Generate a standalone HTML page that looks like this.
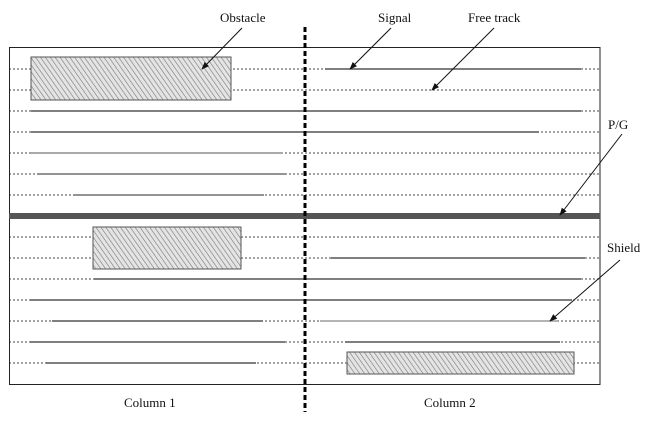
<!DOCTYPE html>
<html><head><style>
html,body{margin:0;padding:0;background:#fff;}
svg text{font-family:"Liberation Serif",serif;font-size:13px;fill:#111;}
</style></head><body>
<svg width="651" height="417" viewBox="0 0 651 417" xmlns="http://www.w3.org/2000/svg">
<defs>
<pattern id="h" width="4" height="4" patternUnits="userSpaceOnUse" patternTransform="rotate(-35)">
<rect width="4" height="4" fill="#e4e4e4"/>
<line x1="0" y1="0" x2="0" y2="4" stroke="#777" stroke-width="1.2"/>
</pattern>
<marker id="a" markerWidth="8" markerHeight="8" refX="7" refY="4" orient="auto" markerUnits="userSpaceOnUse">
<path d="M0,1 L8,4 L0,7 Z" fill="#111"/>
</marker>
</defs>
<g stroke="#444" stroke-width="1" stroke-dasharray="2,2" fill="none">
<line x1="9" y1="69" x2="600" y2="69"/>
<line x1="9" y1="90" x2="600" y2="90"/>
<line x1="9" y1="111" x2="600" y2="111"/>
<line x1="9" y1="132" x2="600" y2="132"/>
<line x1="9" y1="153" x2="600" y2="153"/>
<line x1="9" y1="174" x2="600" y2="174"/>
<line x1="9" y1="195" x2="600" y2="195"/>
<line x1="9" y1="237" x2="600" y2="237"/>
<line x1="9" y1="258" x2="600" y2="258"/>
<line x1="9" y1="279" x2="600" y2="279"/>
<line x1="9" y1="300" x2="600" y2="300"/>
<line x1="9" y1="321" x2="600" y2="321"/>
<line x1="9" y1="342" x2="600" y2="342"/>
<line x1="9" y1="363" x2="600" y2="363"/>
</g>
<g stroke="#333" stroke-width="1.3">
<line x1="325" y1="69" x2="581" y2="69"/>
<line x1="31" y1="111" x2="581" y2="111"/>
<line x1="31" y1="132" x2="539" y2="132"/>
<line x1="31" y1="153" x2="283" y2="153" stroke="#777"/>
<line x1="37" y1="174" x2="286" y2="174" stroke="#555"/>
<line x1="73" y1="195" x2="264" y2="195" stroke="#555"/>
<line x1="331" y1="258" x2="585" y2="258"/>
<line x1="94" y1="279" x2="581" y2="279"/>
<line x1="30" y1="300" x2="572" y2="300"/>
<line x1="52" y1="321" x2="263" y2="321"/>
<line x1="320" y1="321" x2="558" y2="321" stroke="#888"/>
<line x1="30" y1="342" x2="285" y2="342"/>
<line x1="345" y1="342" x2="560" y2="342"/>
<line x1="46" y1="363" x2="256" y2="363"/>
</g>
<rect x="9.5" y="47.5" width="590.5" height="337" fill="none" stroke="#222" stroke-width="1"/>
<rect x="9" y="213" width="591" height="6" fill="#555"/>
<rect x="31" y="57" width="200" height="43" fill="url(#h)" stroke="#555"/>
<rect x="93" y="227" width="148" height="42" fill="url(#h)" stroke="#555"/>
<rect x="347" y="352" width="227" height="22" fill="url(#h)" stroke="#555"/>
<line x1="305" y1="27" x2="305" y2="412" stroke="#000" stroke-width="3" stroke-dasharray="5,3"/>
<g stroke="#111" stroke-width="1" marker-end="url(#a)">
<line x1="242" y1="28" x2="202" y2="69"/>
<line x1="391" y1="28" x2="350" y2="69"/>
<line x1="494" y1="28" x2="432" y2="90"/>
<line x1="622" y1="134" x2="560" y2="215"/>
<line x1="620" y1="260" x2="550" y2="321"/>
</g>
<text x="220" y="22">Obstacle</text>
<text x="378" y="22">Signal</text>
<text x="468" y="22">Free track</text>
<text x="608" y="129">P/G</text>
<text x="607" y="252">Shield</text>
<text x="124" y="407">Column 1</text>
<text x="424" y="407">Column 2</text>
</svg>
</body></html>
